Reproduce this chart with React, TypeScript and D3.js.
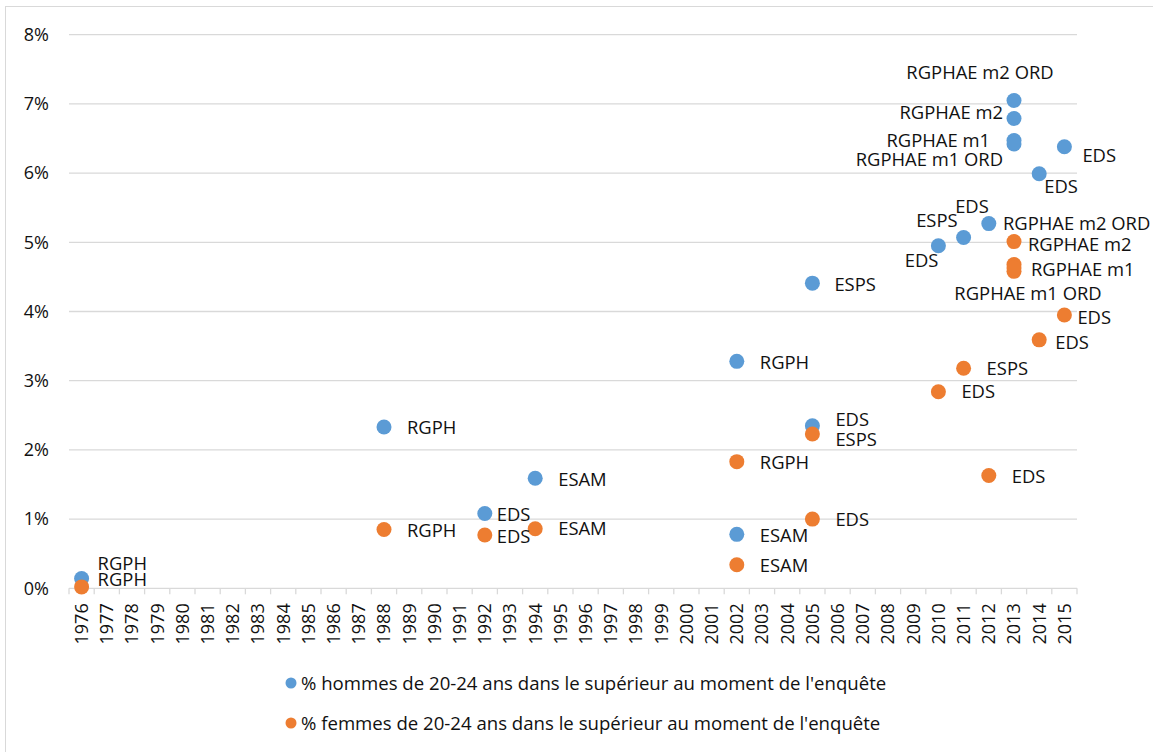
import React from "react"
import * as d3 from "d3"

// categories (x axis)
const years = [
  "1976", "1977", "1978", "1979", "1980", "1981", "1982", "1983", "1984", "1985",
  "1986", "1987", "1988", "1989", "1990", "1991", "1992", "1993", "1994", "1995",
  "1996", "1997", "1998", "1999", "2000", "2001", "2002", "2003", "2004", "2005",
  "2006", "2007", "2008", "2009", "2010", "2011", "2012", "2013", "2014", "2015",
]
const yTicks = [0, 1, 2, 3, 4, 5, 6, 7, 8]

// men
const menYears = ["1976", "1988", "1992", "1994", "2002", "2002", "2005", "2005", "2010", "2011", "2012", "2013", "2013", "2013", "2013", "2014", "2015"]
const menValues = [0.14, 2.33, 1.08, 1.59, 3.28, 0.78, 4.41, 2.35, 4.95, 5.07, 5.27, 7.05, 6.79, 6.47, 6.42, 5.99, 6.38]
const menSurveys = ["RGPH", "RGPH", "EDS", "ESAM", "RGPH", "ESAM", "ESPS", "EDS", "EDS", "ESPS", "EDS", "RGPHAE m2 ORD", "RGPHAE m2", "RGPHAE m1", "RGPHAE m1 ORD", "EDS", "EDS"]

// women
const womenYears = ["1976", "1988", "1992", "1994", "2002", "2002", "2005", "2005", "2010", "2011", "2012", "2013", "2013", "2013", "2013", "2014", "2015"]
const womenValues = [0.02, 0.85, 0.77, 0.86, 1.83, 0.34, 2.23, 1.0, 2.84, 3.18, 1.63, 5.01, 4.68, 4.58, 4.63, 3.59, 3.95]
const womenSurveys = ["RGPH", "RGPH", "EDS", "ESAM", "RGPH", "ESAM", "ESPS", "EDS", "EDS", "ESPS", "EDS", "RGPHAE m2", "RGPHAE m2 ORD", "RGPHAE m1", "RGPHAE m1 ORD", "EDS", "EDS"]

const legendLabels = [
  "% hommes de 20-24 ans dans le supérieur au moment de l'enquête",
  "% femmes de 20-24 ans dans le supérieur au moment de l'enquête",
]

// label placement (dx, dy, anchor) as moved by hand in the original
const menLabelPos: [number, number, string][] = [
  [16, -15, "start"], [23, 0, "start"], [12, 1, "start"], [23, 1, "start"],
  [23, 1, "start"], [23, 1, "start"], [22, 1, "start"], [23, -6, "start"],
  [0, 15, "end"], [-6, -17, "end"], [0, -17, "end"],
  [-34, -28, "middle"], [-11, -6, "end"], [-24, 0, "end"], [-11, 16, "end"],
  [5, 13, "start"], [18, 9, "start"],
]
const womenLabelPos: [number, number, string][] = [
  [16, -7, "start"], [23, 1, "start"], [12, 2, "start"], [23, 0, "start"],
  [23, 1, "start"], [23, 1, "start"], [23, 6, "start"], [23, 0, "start"],
  [23, 0, "start"], [23, 0, "start"], [23, 1, "start"],
  [14, 3, "start"], [-11, -41, "start"], [17, -2, "start"], [14, 26, "middle"],
  [16, 3, "start"], [13, 3, "start"],
]

const W = 1153
const H = 752
const FONT = "'Open Sans', 'Noto Sans', sans-serif"
const BLUE = "#5B9BD5"
const ORANGE = "#ED7D31"
const GRID = "#d9d9d9"
const TEXT = "#111"

export default function App() {
  const x = d3.scaleBand<string>().domain(years).range([69, 1077]).padding(0)
  const y = d3.scaleLinear().domain([0, 8]).range([588.3, 34.7])
  const bw = x.bandwidth()
  const cx = (yr: string) => (x(yr) as number) + bw / 2

  const series = [
    { years: menYears, values: menValues, labels: menSurveys, pos: menLabelPos, color: BLUE },
    { years: womenYears, values: womenValues, labels: womenSurveys, pos: womenLabelPos, color: ORANGE },
  ]

  const boundaries = years.map(yr => x(yr) as number).concat([x.range()[1]])

  return (
    <div style={{ position: "absolute", left: 0, top: 0 }}>
      <svg width={W} height={H} style={{ display: "block", background: "#fff", fontFamily: FONT }}>
        <rect x={5.5} y={6.5} width={W + 10} height={H + 10} fill="none" stroke={GRID} strokeWidth={1} />

        {/* gridlines */}
        {yTicks.filter(t => t > 0).map(t => (
          <line key={t} x1={69} x2={1077} y1={y(t)} y2={y(t)} stroke={GRID} strokeWidth={1.3} />
        ))}
        {/* y labels */}
        {yTicks.map(t => (
          <text key={t} x={49} y={y(t)} dy="0.35em" textAnchor="end" fontSize={18} fill={TEXT}>{t}%</text>
        ))}

        {/* x axis */}
        <line x1={69} x2={1077} y1={y(0)} y2={y(0)} stroke={GRID} strokeWidth={1.3} />
        {boundaries.map((b, i) => (
          <line key={i} x1={b} x2={b} y1={y(0)} y2={y(0) + 6} stroke={GRID} strokeWidth={1.3} />
        ))}
        {years.map(yr => (
          <text key={yr} transform={`translate(${cx(yr)},${y(0) + 15}) rotate(-90)`} textAnchor="end" dy="0.35em" fontSize={18} fill={TEXT}>{yr}</text>
        ))}

        {/* points */}
        {series.map((s, si) => (
          <g key={si}>
            {s.values.map((v, i) => (
              <circle key={i} cx={cx(s.years[i])} cy={y(v)} r={7.5} fill={s.color} />
            ))}
          </g>
        ))}
        {/* data labels */}
        {series.map((s, si) => (
          <g key={"l" + si}>
            {s.values.map((v, i) => {
              const [dx, dy, anchor] = s.pos[i]
              return (
                <text key={i} x={cx(s.years[i]) + dx} y={y(v) + dy} dy="0.35em" textAnchor={anchor as any} fontSize={18.4} fill={TEXT}>
                  {s.labels[i]}
                </text>
              )
            })}
          </g>
        ))}

        {/* legend */}
        {legendLabels.map((l, i) => (
          <g key={l} transform={`translate(291,${683 + i * 40})`}>
            <circle cx={0} cy={0} r={5.5} fill={i === 0 ? BLUE : ORANGE} />
            <text x={10} y={0} dy="0.35em" fontSize={18.6} fill={TEXT}>{l}</text>
          </g>
        ))}
      </svg>
    </div>
  )
}
